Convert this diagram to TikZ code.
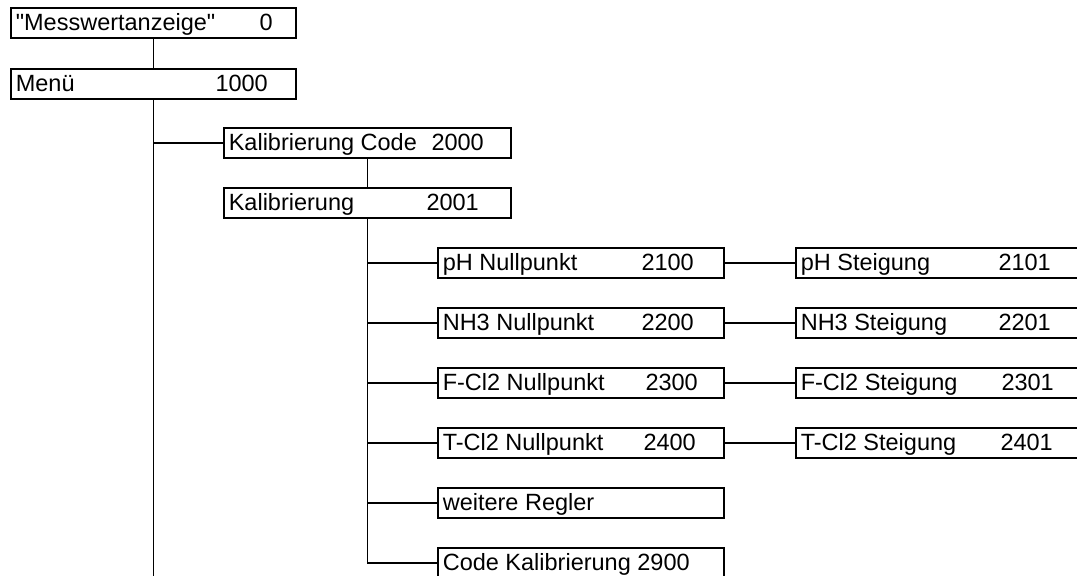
\documentclass[tikz,border=0pt]{standalone}
\usepackage{fontspec}
\setmainfont{Liberation Sans}[Ligatures=TeXOff]
\begin{document}
\begin{tikzpicture}[x=1pt,y=-1pt,
  line width=1.6pt,
  every node/.style={font=\fontsize{23.5}{26}\selectfont},
  menubox/.style={draw, rectangle, anchor=north west, minimum height=30pt,
    inner xsep=5pt, inner ysep=0pt, text height=19pt, text depth=3pt},
  codenum/.style={anchor=base east, inner sep=0pt},
  link/.style={draw}]
\newcommand\entry[2]{\makebox[#1][l]{#2}}
\useasboundingbox (0,0) rectangle (1077,576);
\clip (0,0) rectangle (1077,576);

% top level
\node[menubox] (b0) at (10,7) {\entry{275pt}{"Messwertanzeige"}};
\node[menubox] (b1000) at (10,68) {\entry{275pt}{Menü}};
\node[codenum] (n0) at ([xshift=-23pt]b0.base east) {0};
\node[codenum] (n1000) at ([xshift=-28pt]b1000.base east) {1000};

% calibration entry
\node[menubox] (b2000) at (223,127) {\entry{277pt}{Kalibrierung Code}};
\node[menubox] (b2001) at (223,187) {\entry{277pt}{Kalibrierung}};
\node[codenum] (n2000) at ([xshift=-27pt]b2000.base east) {2000};
\node[codenum] (n2001) at ([xshift=-32pt]b2001.base east) {2001};

% zero points
\node[menubox] (b2100) at (437,247) {\entry{276pt}{pH Nullpunkt}};
\node[menubox] (b2200) at (437,307) {\entry{276pt}{NH3 Nullpunkt}};
\node[menubox] (b2300) at (437,367) {\entry{276pt}{F-Cl2 Nullpunkt}};
\node[menubox] (b2400) at (437,427) {\entry{276pt}{T-Cl2 Nullpunkt}};
\node[menubox] (bmore) at (437,487) {\entry{276pt}{weitere Regler}};
\node[menubox] (b2900) at (437,547) {\entry{276pt}{Code Kalibrierung 2900}};
\node[codenum] (n2100) at ([xshift=-30pt]b2100.base east) {2100};
\node[codenum] (n2200) at ([xshift=-30pt]b2200.base east) {2200};
\node[codenum] (n2300) at ([xshift=-26pt]b2300.base east) {2300};
\node[codenum] (n2400) at ([xshift=-28pt]b2400.base east) {2400};

% slopes
\node[menubox] (b2101) at (795,247) {\entry{300pt}{pH Steigung}};
\node[menubox] (b2201) at (795,307) {\entry{300pt}{NH3 Steigung}};
\node[menubox] (b2301) at (795,367) {\entry{300pt}{F-Cl2 Steigung}};
\node[menubox] (b2401) at (795,427) {\entry{300pt}{T-Cl2 Steigung}};
\node[codenum] (n2101) at ([xshift=-55pt]b2101.base east) {2101};
\node[codenum] (n2201) at ([xshift=-55pt]b2201.base east) {2201};
\node[codenum] (n2301) at ([xshift=-52pt]b2301.base east) {2301};
\node[codenum] (n2401) at ([xshift=-53pt]b2401.base east) {2401};

\coordinate (mainend) at (153,590);

% connectors
\draw[link] (b0.south) -- (b1000.north);
\draw[link] (b1000.south) -- (b1000.south |- mainend);
\draw[link] (b1000.south |- b2000.west) -- (b2000.west);
\draw[link] (b2000.south) -- (b2001.north);
\draw[link] (b2001.south) -- (b2001.south |- b2900.west) -- (b2900.west);
\foreach \b in {b2100,b2200,b2300,b2400,bmore}
  \draw[link] (b2001.south |- \b.west) -- (\b.west);
\draw[link] (b2100.east) -- (b2101.west);
\draw[link] (b2200.east) -- (b2201.west);
\draw[link] (b2300.east) -- (b2301.west);
\draw[link] (b2400.east) -- (b2401.west);
\end{tikzpicture}
\end{document}
